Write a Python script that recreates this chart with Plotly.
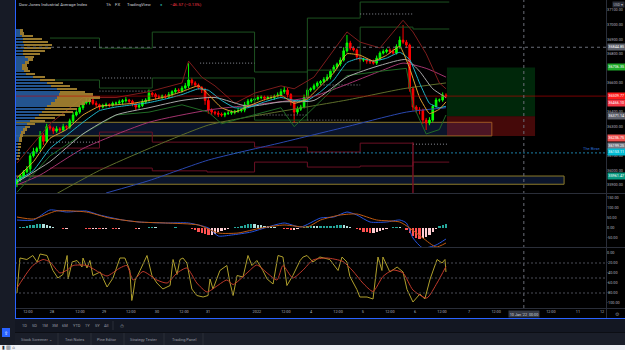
import plotly.graph_objects as go

FONT = "Roboto"
W, H = 625, 350

# ---------------- DATA ----------------
closes = [
    35935, 35960, 35990, 36010, 36100, 36130, 36150, 36240, 36200, 36300,
    36290, 36270, 36285, 36277, 36300, 36297, 36340, 36380, 36400, 36430,
    36462, 36470, 36483, 36460, 36450, 36435, 36445, 36450, 36448, 36460,
    36462, 36470, 36478, 36483, 36475, 36455, 36435, 36445, 36470, 36483,
    36530, 36520, 36505, 36503, 36510, 36503, 36520, 36540, 36551, 36545,
    36565, 36580, 36620, 36600, 36586, 36570, 36551, 36480, 36414, 36400,
    36393, 36385, 36380, 36390, 36393, 36400, 36405, 36410, 36414, 36450,
    36475, 36483, 36490, 36500, 36503, 36495, 36500, 36500, 36510, 36517,
    36540, 36551, 36520, 36470, 36400, 36420, 36435, 36500, 36551, 36560,
    36580, 36599, 36610, 36625, 36640, 36680, 36709, 36730, 36757, 36820,
    36874, 36839, 36826, 36780, 36757, 36760, 36750, 36745, 36736, 36770,
    36805, 36815, 36826, 36815, 36805, 36850, 36894, 36880, 36860, 36560,
    36435, 36414, 36414, 36345, 36325, 36345, 36440, 36483, 36483, 36517, 36509.77,
]
first_open = 35910
wick_up = [
    10, 15, 12, 20, 18, 25, 12, 30, 15, 20,
    15, 10, 18, 12, 20, 10, 15, 20, 12, 18,
    15, 25, 12, 10, 15, 8, 12, 15, 10, 12,
    10, 15, 12, 20, 8, 10, 12, 15, 18, 12,
    25, 10, 12, 15, 10, 12, 18, 10, 15, 12,
    15, 20, 116, 15, 12, 10, 8, 15, 20, 12,
    10, 15, 12, 10, 15, 12, 10, 18, 12, 20,
    15, 12, 10, 15, 12, 10, 12, 15, 10, 18,
    20, 25, 15, 10, 12, 18, 15, 20, 12, 10,
    15, 12, 10, 15, 20, 12, 15, 10, 18, 25,
    55, 15, 12, 10, 15, 12, 10, 12, 15, 18,
    12, 15, 10, 12, 20, 15, 25, 103, 15, 10,
    15, 12, 20, 10, 15, 20, 12, 15, 10, 18, 12,
]
wick_dn = [
    25, 12, 15, 10, 20, 12, 15, 18, 25, 12,
    15, 20, 12, 15, 10, 18, 12, 15, 10, 12,
    15, 10, 18, 12, 15, 20, 10, 12, 15, 10,
    12, 10, 15, 12, 18, 15, 20, 12, 10, 15,
    12, 15, 18, 10, 15, 12, 10, 15, 12, 10,
    12, 10, 15, 18, 12, 15, 20, 30, 25, 20,
    15, 18, 12, 15, 10, 12, 15, 10, 12, 15,
    10, 12, 15, 10, 12, 15, 10, 12, 15, 10,
    12, 15, 20, 25, 70, 15, 12, 10, 15, 12,
    10, 12, 15, 10, 12, 15, 10, 12, 15, 10,
    12, 15, 10, 20, 15, 12, 18, 15, 10, 12,
    15, 10, 12, 15, 12, 10, 15, 12, 20, 20,
    25, 20, 30, 25, 48, 15, 12, 10, 15, 12, 15,
]

# moving averages / bands (read at sample bars)
ma_x = [0, 5, 10, 15, 20, 25, 30, 35, 40, 45, 50, 55, 58, 62, 66, 70, 75, 80, 84, 88, 92, 96, 100, 104, 108, 112, 116, 119, 122, 125, 128, 130]
fast_v = [35950, 36060, 36220, 36280, 36380, 36440, 36450, 36460, 36480, 36505, 36540, 36580, 36520, 36430, 36400, 36440, 36485, 36515, 36460, 36490, 36580, 36670, 36800, 36790, 36750, 36790, 36850, 36700, 36500, 36390, 36420, 36470]
mid_v = [35930, 36000, 36150, 36240, 36330, 36410, 36435, 36450, 36465, 36490, 36520, 36560, 36550, 36480, 36430, 36430, 36470, 36500, 36480, 36480, 36540, 36620, 36740, 36770, 36750, 36770, 36810, 36760, 36600, 36460, 36430, 36440]
white_x = [0, 10, 20, 30, 40, 50, 60, 70, 80, 90, 100, 110, 118, 122, 126, 130]
white_v = [35920, 36060, 36250, 36380, 36430, 36480, 36500, 36440, 36470, 36480, 36640, 36720, 36760, 36680, 36560, 36500]
upper_x = [0, 10, 20, 30, 40, 50, 52, 56, 60, 66, 72, 80, 84, 90, 100, 104, 110, 117, 120, 124, 128, 130]
upper_v = [36050, 36320, 36500, 36500, 36540, 36600, 36750, 36640, 36580, 36460, 36530, 36580, 36560, 36640, 36950, 36880, 36840, 37030, 36950, 36800, 36600, 36560]
lower_x = [0, 10, 20, 30, 40, 50, 58, 62, 70, 80, 84, 90, 100, 110, 118, 120, 124, 128, 130]
lower_v = [35850, 36100, 36250, 36380, 36400, 36450, 36400, 36320, 36370, 36430, 36300, 36430, 36650, 36680, 36700, 36450, 36250, 36280, 36380]
pink_x = [0, 7, 20, 40, 58, 89, 110, 117, 124, 130]
pink_v = [35900, 35968, 36150, 36330, 36414, 36503, 36680, 36736, 36700, 36640]
olive_x = [12, 25, 40, 58, 70, 100, 117, 130]
olive_v = [35840, 36000, 36150, 36311, 36366, 36483, 36560, 36600]
blue_x = [27, 40, 58, 80, 100, 118, 130]
blue_v = [35845, 35930, 36071, 36190, 36300, 36400, 36430]

# stepped range lines
ga_x = [10, 25, 41, 72, 88, 104, 131]
ga_y = [36908, 36839, 36949, 36675, 37045, 37155, 37155]
gb_x = [10, 25, 41, 72, 88, 104, 120, 131]
gb_y = [36620, 36565, 36634, 36345, 36688, 36983, 36970, 36970]
r1_x = [10, 25, 41, 72, 88, 104, 120, 120]
r1_y = [36153, 36263, 36194, 36160, 36126, 36187, 36187, 35845]
r2_x = [10, 25, 41, 57.6, 72, 88, 104, 120, 131]
r2_y = [36016, 36016, 35997, 35989, 36057, 36023, 36030, 36057, 36057]

# dotted levels (x0, x1, price)
dotted = [(25.8, 41.2, 36634), (104, 120, 37073), (55.5, 72, 36736), (92, 104, 36586),
          (72, 88, 36380), (88, 104, 36345), (10, 25, 36194), (25, 41, 36544), (120, 130.6, 36180)]

# zones (x0, x1, low, high)
zones = [(-1, 143.9, 36236.75, 36330), (-1, 165.8, 35905, 35961.47)]
pos_x0, pos_x1 = 130.3, 157
pos_entry, pos_target, pos_stop = 36371.14, 36706.35, 36236.75
last_price = 36509.77
birse_level = 36120
cross_x, cross_y = 153.6, 36844.85

# volume profile
vp_price = [36960, 36940, 36920, 36900, 36880, 36860, 36840, 36820, 36800, 36780,
            36760, 36740, 36720, 36700, 36680, 36660, 36640, 36620, 36600, 36580,
            36560, 36540, 36520, 36500, 36480, 36460, 36440, 36420, 36400, 36380,
            36360, 36340, 36320, 36300, 36280, 36260, 36240, 36220, 36200, 36180,
            36160, 36140, 36120, 36100, 36080]
vp_up = [5, 5, 7, 8, 8, 9, 9, 8, 8, 10, 13, 10, 7, 7, 9, 11, 18, 25, 32, 36,
         42, 45, 44, 42, 40, 36, 32, 30, 27, 24, 20, 15, 12, 10, 8, 6, 5, 4, 4, 3,
         3, 3, 3, 2, 2]
vp_dn = [3, 4, 11, 19, 25, 28, 27, 22, 17, 9, 5, 4, 5, 6, 6, 9, 12, 15, 16, 19,
         20, 25, 34, 43, 36, 34, 33, 32, 31, 26, 20, 15, 8, 5, 4, 4, 3, 3, 3, 3,
         3, 2, 2, 3, 2]

# MACD
macd_hist = [
    0, 3, 6, 10, 14, 17, 19, 20, 18, 15,
    10, 5, 2, -2, -4, -3, -1, 1, 2, 1,
    -1, -3, -5, -5, -4, -6, -5, -3, -2, -3,
    -4, -3, -2, -1, 0, -2, -4, -3, -1, 1,
    3, 4, 3, 2, 1, 0, 1, 2, 3, 2,
    1, 0, -2, -5, -10, -18, -25, -32, -35, -33,
    -28, -22, -16, -10, -5, -1, 3, 7, 11, 15,
    18, 20, 19, 17, 14, 11, 8, 6, 4, 2,
    0, -3, -7, -10, -8, -4, 2, 6, 9, 10,
    9, 8, 8, 9, 10, 11, 12, 13, 15, 14,
    10, 5, 0, -6, -12, -18, -22, -25, -23, -19,
    -14, -9, -4, 0, 3, 4, 3, 0, -10, -25,
    -40, -50, -55, -52, -45, -35, -20, -5, 8, 15, 20,
]
macd_x = [0, 5, 10, 15, 21, 25, 32, 37, 45, 52, 58, 61, 65, 71, 76, 81, 86, 92, 96, 100, 103, 107, 112, 116, 118, 120, 123, 127, 130]
macd_v = [40, 40, 90, 80, 85, 65, 40, 30, 25, 25, 0, -40, -35, -20, 5, 25, 5, 50, 55, 80, 65, 30, 30, 40, 25, -50, -100, -85, -55]
sig_x = [0, 5, 12, 21, 28, 37, 45, 55, 61, 67, 74, 81, 88, 92, 98, 103, 109, 116, 119, 123, 127, 130]
sig_v = [55, 45, 85, 80, 50, 30, 25, 15, -25, -25, 0, 15, 5, 40, 65, 70, 40, 30, 0, -50, -95, -75]

# Williams %R
wr_x = [0, 0.9, 3, 4.8, 6.1, 7, 9.1, 10.9, 12.4, 13.9, 15.2, 15.5, 16.7, 18.2, 19.7, 20, 21.2, 22.1, 23, 25.2,
        27.3, 29.1, 31.2, 32.7, 34.2, 34.8, 35.2, 35.8, 37.3, 39.4, 40.9, 42.4, 44.2, 46.4, 47.3, 48.5, 49.4, 50.3, 51.5, 53,
        54.5, 56.4, 57.9, 58.5, 59.4, 61.5, 63.6, 64.5, 65.5, 66.7, 68.5, 70, 71.2, 72.7, 74.5, 75.8, 77.6, 79.1, 80.6, 81.8,
        83.6, 85.8, 86.7, 87.9, 89.7, 91.8, 94.8, 97.3, 98.5, 100, 100.9, 103, 103.9, 106.1, 107.9, 109.4, 110.6, 110.9, 113, 115.2,
        117, 118.2, 120, 122.1, 123.6, 125.2, 127.3, 128.8, 129.7, 130]
wr_v = [-80, -10, -13, -5, -18, -2, -5, -35, -50, -43, -5, -52, -18, -15, -28, -10, -30, -15, -45, -38,
        -68, -50, -10, -10, -35, -95, -82, -55, -35, -5, -45, -60, -72, -65, -13, -43, -13, -10, -20, -72,
        -85, -88, -85, -52, -72, -35, -25, -58, -85, -45, -48, -5, -25, -15, -35, -52, -62, -5, -8, -65,
        -45, -15, -8, -5, -18, -8, -13, -35, -8, -18, -47, -73, -88, -88, -92, -8, -35, -8, -38, -28,
        -38, -73, -98, -82, -92, -52, -13, -20, -13, -38]
wrs_x = [0, 3, 4.8, 7.9, 10, 13, 15.2, 17, 21.2, 25.2, 27.3, 31.2, 33.3, 35.2, 38.2, 42.4, 45.5, 48.5, 51.5, 54.5,
         57.6, 60.6, 63.6, 65.5, 69.7, 72.7, 75.8, 78.8, 80.6, 83.6, 86.7, 89.7, 93.9, 98.8, 101.8, 104.8, 107.9, 110.9, 113.9, 117,
         120, 124.2, 127.3, 130]
wrs_v = [-70, -40, -25, -13, -18, -40, -34, -25, -25, -40, -46, -30, -25, -54, -37, -54, -60, -40, -30, -60,
         -78, -66, -54, -63, -40, -24, -40, -54, -25, -50, -34, -14, -10, -17, -36, -60, -77, -47, -34, -40,
         -74, -90, -60, -27]
wr_levels = [-20, -50, -80]

# axis ticks
time_tick_pos = [3.3, 10.6, 19.1, 26.4, 34.5, 42.4, 50.6, 57.9, 72.7, 81.5, 89.1, 97.3, 104.8, 113.0, 120.6, 128.8, 137.0, 145.2, 161.8, 170.0, 177.3]
time_tick_txt = ["12:00", "28", "12:00", "29", "12:00", "30", "12:00", "31", "2022", "12:00", "4", "12:00", "5", "12:00", "6", "12:00", "7", "12:00", "12:00", "11", "12"]
price_ticks = [37100, 37000, 36900, 36800, 36600, 36400, 36300, 36100, 36000, 35900]
macd_ticks = [150, 100, 50, 0, -50]
wr_ticks = [0, -20, -40, -60, -80, -100]

price_tags = [  # value, text, colour, pixel shift
    (36844.85, "36844.85", "#5d606b", 0),
    (36706.35, "36706.35", "#1faa2a", 0),
    (36509.77, "36509.77", "#ff1a1a", 0),
    (36466.10, "36466.10", "#f23645", -1),
    (36371.14, "36371.14", "#5d606b", 0),
    (36236.75, "36236.75", "#ef5350", -2),
    (36199.25, "36199.25", "#787b86", -4.5),
    (36153.11, "36153.11", "#00bcd4", -3.5),
    (35961.47, "35961.47", "#089981", 0),
]

# ---------------- BUILD ----------------
n = len(closes)
xs = list(range(n))
opens = [first_open] + closes[:-1]
highs = [max(o, c) + u for o, c, u in zip(opens, closes, wick_up)]
lows = [min(o, c) - d for o, c, d in zip(opens, closes, wick_dn)]

def P(px):
    return px / W

def Q(py):
    return 1 - py / H

XDOM = [P(15), P(606)]
XR = [-0.6, 178.5]

fig = go.Figure()

# volume profile
fig.add_trace(go.Bar(y=vp_price, x=vp_up, orientation="h", xaxis="x4", yaxis="y", width=16,
                     marker=dict(color="#2a63a8", line=dict(width=0)), opacity=0.85))
fig.add_trace(go.Bar(y=vp_price, x=vp_dn, orientation="h", xaxis="x4", yaxis="y", width=16,
                     marker=dict(color="#a88532", line=dict(width=0)), opacity=0.9))

def line(x, y, color, width=1, shape="spline", dash=None, xa="x", ya="y", smooth=0.6):
    ln = dict(color=color, width=width, shape=shape, dash=dash)
    if shape == "spline":
        ln["smoothing"] = smooth
    fig.add_trace(go.Scatter(x=x, y=y, mode="lines", xaxis=xa, yaxis=ya, line=ln, hoverinfo="skip"))

line(ga_x, ga_y, "#1d5220", shape="hv")
line(gb_x, gb_y, "#1d5220", shape="hv")
line(r1_x, r1_y, "#6b1024", shape="hv")
line(r2_x, r2_y, "#6b1024", shape="hv")

dx, dy = [], []
for a, b, lv in dotted:
    dx += [a, b, None]
    dy += [lv, lv, None]
line(dx, dy, "#8a8d96", shape="linear", dash="1px,2px")

line(pink_x, pink_v, "#a3336e")
line(olive_x, olive_v, "#5e6e2a")
line(blue_x, blue_v, "#2a48b0")
line(upper_x, upper_v, "#7d1c1c", shape="linear")
line(lower_x, lower_v, "#206a25", shape="linear")
line(white_x, white_v, "#a8a8a8")
line(ma_x, mid_v, "#1fb5c9", smooth=0.4)
line(ma_x, fast_v, "#e0a030", smooth=0.4)

fig.add_trace(go.Candlestick(
    x=xs, open=opens, high=highs, low=lows, close=closes, xaxis="x", yaxis="y",
    increasing=dict(line=dict(color="#00ff00", width=1), fillcolor="#00ff00"),
    decreasing=dict(line=dict(color="#ff0000", width=1), fillcolor="#ff0000"),
    whiskerwidth=0, hoverinfo="skip"))

# MACD
hcol = []
for i, v in enumerate(macd_hist):
    prev = macd_hist[i - 1] if i else v
    if v >= 0:
        hcol.append("#26a69a" if v >= prev else "#b2dfdb")
    else:
        hcol.append("#ffcdd2" if v >= prev else "#ff5252")
fig.add_trace(go.Bar(x=xs, y=macd_hist, xaxis="x2", yaxis="y2", width=0.7,
                     marker=dict(color=hcol, line=dict(width=0))))
line(macd_x, macd_v, "#2453e0", xa="x2", ya="y2")
line(sig_x, sig_v, "#c05a10", xa="x2", ya="y2")

# Williams %R
line(wr_x, wr_v, "#b0a02c", shape="linear", xa="x3", ya="y3")
line(wrs_x, wrs_v, "#c0392b", xa="x3", ya="y3")

# ---------------- SHAPES ----------------
shapes = []
def rect(x0, y0, x1, y1, fill, layer="below", lc=None, lw=0, xref="paper", yref="paper"):
    shapes.append(dict(type="rect", x0=x0, y0=y0, x1=x1, y1=y1, xref=xref, yref=yref,
                       fillcolor=fill, line=dict(color=lc or fill, width=lw), layer=layer))
def seg(x0, y0, x1, y1, color, width=1, dash=None, xref="paper", yref="paper", layer="above"):
    shapes.append(dict(type="line", x0=x0, y0=y0, x1=x1, y1=y1, xref=xref, yref=yref,
                       line=dict(color=color, width=width, dash=dash), layer=layer))

# chrome
rect(0, Q(345), P(15), 1, "#171b26")
rect(P(15), Q(318), 1, 1, "#000000")
rect(P(15), Q(332), 1, Q(319), "#131722")
rect(P(15), Q(345), 1, Q(332), "#1a1e29")
rect(0, 0, 1, Q(345), "#eef0f5")
rect(P(2), Q(337), P(10), Q(328), "#2962ff", layer="above")
for tx in [58, 91, 124, 164, 203]:
    seg(P(tx), Q(345), P(tx), Q(333), "#2a2e39")
seg(P(113), Q(330), P(113), Q(321), "#2a2e39")
seg(P(15), Q(332.5), 1, Q(332.5), "#0c0e14")

# zones and position tool
for x0, x1, lo, hi in zones:
    rect(x0, lo, x1, hi, "rgba(30,60,130,0.33)", lc="#8c7a2a", lw=1, xref="x", yref="y")
rect(pos_x0, pos_entry, pos_x1, pos_target, "rgba(0,140,35,0.28)", xref="x", yref="y")
rect(pos_x0, pos_stop, pos_x1, pos_entry, "rgba(190,25,25,0.36)", xref="x", yref="y")

# levels
seg(XDOM[0], last_price, XDOM[1], last_price, "rgba(200,0,0,0.6)", yref="y")
seg(XDOM[0], birse_level, XDOM[1], birse_level, "#1c7fa6", dash="2px,2px", yref="y")
seg(XDOM[0], cross_y, XDOM[1], cross_y, "#6a6d78", dash="3px,3px", yref="y")
seg(cross_x, Q(308), cross_x, 1, "#6a6d78", dash="3px,3px", xref="x")
seg(120, 36194, 120, 35845, "#7a1226", xref="x", yref="y")
for lv in wr_levels:
    seg(XDOM[0], lv, XDOM[1], lv, "#4a4d57", dash="2px,2px", yref="y3")

# frame
for py in [193.5, 247.5, 308.5]:
    seg(P(15), Q(py), 1, Q(py), "#2a2e39")
seg(P(606.5), Q(318), P(606.5), 1, "#2a2e39")
seg(P(15.5), Q(318), P(15.5), 1, "#2962ff")
seg(P(15), Q(318.5), 1, Q(318.5), "#2962ff")

# ---------------- ANNOTATIONS ----------------
ann = []
def text(x, y, s, size=4, color="#b2b5be", xanchor="left", bg=None, xref="paper", yref="paper", yshift=0, pad=0):
    ann.append(dict(x=x, y=y, text=s, showarrow=False, xref=xref, yref=yref, xanchor=xanchor,
                    yanchor="middle", yshift=yshift, bgcolor=bg, borderpad=pad,
                    font=dict(size=size, color=color, family=FONT)))

text(P(18), Q(5), "Dow Jones Industrial Average Index", size=4.3, color="#d1d4dc")
text(P(105), Q(5), "1h", size=4.3, color="#d1d4dc")
text(P(114), Q(5), "FX", size=4.3, color="#d1d4dc")
text(P(126), Q(5), "TradingView", size=4.3, color="#d1d4dc")
text(P(159), Q(5), "●", color="#26a69a")
text(P(169), Q(5), "−46.57 (−0.13%)", size=4.3, color="#f23645")
text(P(612), Q(5), "USD ▾", size=3.5, bg="#2a2e39", pad=0.5)

for val, s, bg, sh in price_tags:
    text(P(606.6), val, s, size=3.8, color="#ffffff", bg=bg, yref="y", yshift=sh, pad=0.3)
text(P(601), birse_level, "The Birse", size=4, color="#2b6fd6", xanchor="right", yref="y", yshift=4)
text(cross_x, Q(313.5), "10 Jan '22  00:00", size=3.8, color="#d1d4dc", xanchor="center",
     bg="#363a45", xref="x3", pad=0.7)
text(P(617), Q(313.5), "⚙", size=5, color="#787b86", xanchor="center")

tb = [("1D", 21), ("5D", 31), ("1M", 41), ("3M", 51), ("6M", 61), ("YTD", 72), ("1Y", 84), ("5Y", 94), ("All", 103)]
for s, xx in tb:
    text(P(xx), Q(325.5), s, size=4, color="#9598a1")
text(P(122), Q(325.5), "⏱", size=5, color="#9598a1", xanchor="center")
tabs = [("Stock Screener ⌄", 20), ("Text Notes", 64), ("Pine Editor", 96), ("Strategy Tester", 129), ("Trading Panel", 171)]
for s, xx in tabs:
    text(P(xx), Q(339), s, size=4, color="#9598a1")
text(P(6), Q(332.5), "⇧", size=5, color="#ffffff", xanchor="center")
text(P(1), Q(347.7), "▮ ▥ ⌂", size=4.5, color="#2a2e39")

# ---------------- LAYOUT ----------------
tickfont = dict(size=3.8, color="#b2b5be", family=FONT)
common_x = dict(domain=XDOM, range=XR, showgrid=False, zeroline=False, showline=False,
                showticklabels=False, ticks="", fixedrange=True)
fig.update_layout(
    width=W, height=H, margin=dict(l=0, r=0, t=0, b=0),
    paper_bgcolor="#131722", plot_bgcolor="#000000",
    showlegend=False, hovermode=False, dragmode=False, barmode="stack", bargap=0,
    xaxis=dict(**common_x, anchor="y", rangeslider=dict(visible=False)),
    xaxis2=dict(**common_x, anchor="y2", matches="x"),
    xaxis3=dict(domain=XDOM, range=XR, showgrid=False, zeroline=False, showline=False, ticks="",
                anchor="y3", matches="x", tickmode="array", tickvals=time_tick_pos,
                ticktext=time_tick_txt, tickfont=tickfont, fixedrange=True),
    xaxis4=dict(overlaying="x", anchor="y", range=[0, 591], visible=False, fixedrange=True),
    yaxis=dict(domain=[Q(193), 1], range=[35845, 37169], side="right", showgrid=False,
               zeroline=False, tickmode="array", tickvals=price_ticks,
               ticktext=[f"{v:.2f}" for v in price_ticks], tickfont=tickfont, ticks="", fixedrange=True),
    yaxis2=dict(domain=[Q(247), Q(194)], range=[-95, 170], side="right", showgrid=False,
                zeroline=False, tickmode="array", tickvals=macd_ticks,
                ticktext=[f"{v:.2f}" for v in macd_ticks], tickfont=tickfont, ticks="", fixedrange=True),
    yaxis3=dict(domain=[Q(308), Q(248)], range=[-110, 10], side="right", showgrid=False,
                zeroline=False, tickmode="array", tickvals=wr_ticks,
                ticktext=[f"{v:.2f}" for v in wr_ticks], tickfont=tickfont, ticks="", fixedrange=True),
    shapes=shapes, annotations=ann,
)

fig.write_html("out.html", config={"displayModeBar": False, "staticPlot": True})
